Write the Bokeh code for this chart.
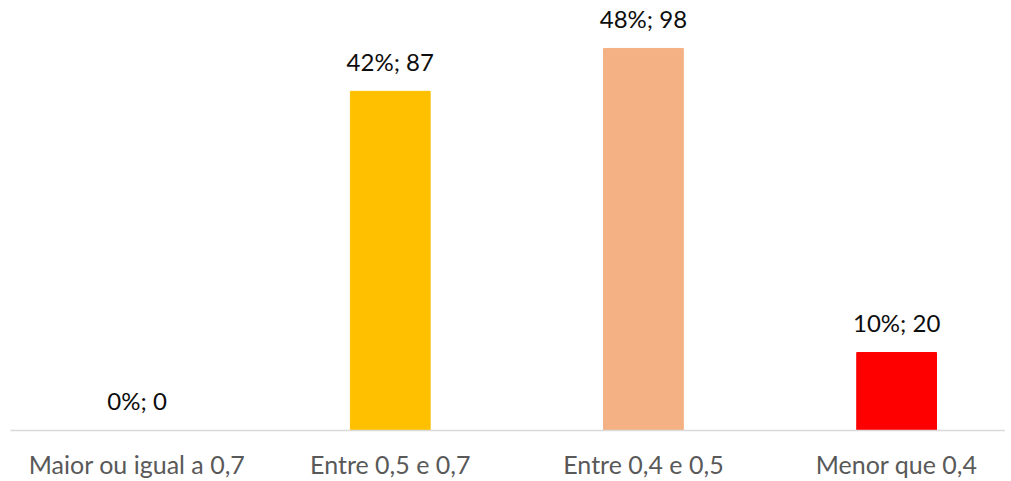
from bokeh.plotting import figure
from bokeh.models import ColumnDataSource, Range1d, FixedTicker
from bokeh.core.properties import value
from bokeh.embed import file_html
from bokeh.resources import INLINE

categories = ["Maior ou igual a 0,7", "Entre 0,5 e 0,7", "Entre 0,4 e 0,5", "Menor que 0,4"]
counts = [0, 87, 98, 20]
percents = ["0%", "42%", "48%", "10%"]
colors = ["#4472C4", "#FFC000", "#F4B183", "#FF0000"]

xs = [i + 0.5 for i in range(len(categories))]
labels = [f"{p}; {c}" for p, c in zip(percents, counts)]

src = ColumnDataSource(dict(x=xs, top=counts, color=colors, label=labels))

p = figure(width=1005, height=481, output_backend="svg", toolbar_location=None,
           x_range=Range1d(0.0, 3.93), y_range=Range1d(0, 110.3))
p.min_border_left = 10
p.min_border_right = 0
p.min_border_top = 0
p.min_border_bottom = 40
p.outline_line_color = None
p.background_fill_color = "white"
p.border_fill_color = "white"
p.grid.visible = False
p.yaxis.visible = False

p.vbar(x="x", top="top", bottom=0, width=0.315, color="color", source=src)
p.text(x="x", y="top", text="label", source=src, text_align="center",
       text_baseline="alphabetic", y_offset=-30, text_font=value("Lato"),
       text_font_size="24px", text_color="#0d0d0d")

ax = p.xaxis[0]
ax.ticker = FixedTicker(ticks=xs)
ax.major_label_overrides = {x: c for x, c in zip(xs, categories)}
ax.axis_line_color = "#D9D9D9"
ax.axis_line_width = 1.5
ax.major_tick_line_color = None
ax.major_tick_out = 0
ax.major_tick_in = 0
ax.minor_tick_line_color = None
ax.minor_tick_out = 0
ax.minor_tick_in = 0
ax.major_label_standoff = 18
ax.major_label_text_font = "Lato"
ax.major_label_text_font_size = "25px"
ax.major_label_text_color = "#595959"

open("out.html", "w").write(file_html(p, INLINE))
